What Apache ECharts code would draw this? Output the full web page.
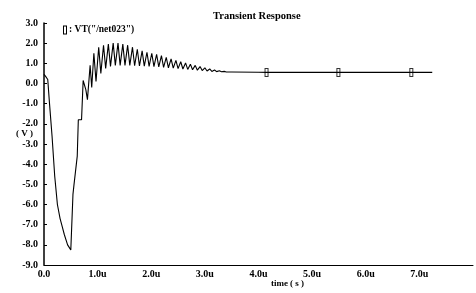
<!DOCTYPE html>
<html>
<head>
<meta charset="utf-8">
<script src="https://cdn.jsdelivr.net/npm/echarts@6/dist/echarts.min.js"></script>
<style>
html,body{margin:0;padding:0;background:#fff;}
#chart{width:476px;height:293px;}
</style>
</head>
<body>
<div id="chart"></div>
<script>
// time in microseconds
var timeUs = [
  0, 0.03, 0.07, 0.1, 0.15, 0.2, 0.25, 0.3, 0.33, 0.38, 0.44, 0.5,
  0.54, 0.56, 0.62, 0.64, 0.70, 0.73, 0.78, 0.81,
  0.86, 0.89, 0.93, 0.97, 1.02, 1.06, 1.11, 1.15, 1.20, 1.24,
  1.29, 1.33, 1.38, 1.42, 1.47, 1.51, 1.56, 1.60, 1.65, 1.69,
  1.74, 1.78, 1.83, 1.87, 1.92, 1.96, 2.01, 2.05, 2.10, 2.14,
  2.19, 2.23, 2.28, 2.32, 2.37, 2.41, 2.46, 2.50, 2.55, 2.59,
  2.64, 2.68, 2.73, 2.77, 2.82, 2.86, 2.91, 2.95, 3.00, 3.04,
  3.09, 3.13, 3.18, 3.22, 3.27, 3.31, 3.36, 3.40, 3.50, 4.0,
  4.15, 5.0, 5.49, 6.0, 6.85, 7.24
];
// voltage in volts
var voltage = [
  0.45, 0.35, 0.2, -0.9, -2.6, -4.6, -6.0, -6.7, -7.0, -7.5, -8.0, -8.25,
  -5.5, -5.0, -3.6, -1.8, -1.8, 0.15, -0.3, -0.8,
  0.9, -0.2, 1.5, 0.1, 1.8, 0.5, 1.9, 0.75, 1.95, 0.85,
  2.0, 0.9, 2.0, 0.9, 1.95, 0.9, 1.9, 0.9, 1.8, 0.88,
  1.7, 0.87, 1.62, 0.86, 1.55, 0.85, 1.5, 0.84, 1.45, 0.82,
  1.38, 0.8, 1.3, 0.78, 1.22, 0.76, 1.15, 0.74, 1.08, 0.72,
  1.02, 0.7, 0.96, 0.68, 0.9, 0.66, 0.84, 0.64, 0.78, 0.62,
  0.72, 0.6, 0.67, 0.59, 0.63, 0.58, 0.6, 0.57, 0.57, 0.56,
  0.55, 0.55, 0.55, 0.55, 0.55, 0.55
];
// marker symbols along the trace
var markerTimes = [4.15, 5.49, 6.85];
var markerValues = [0.55, 0.55, 0.55];

var seriesName = 'VT("/net023")';

var lineData = timeUs.map(function (t, i) { return [t, voltage[i]]; });
var markData = markerTimes.map(function (t, i) { return [t, markerValues[i]]; });

var serif = '"Liberation Serif", "DejaVu Serif", serif';
var outlineRect = 'path://M0,0L4,0L4,9L0,9Z M1,1L1,8L3,8L3,1Z';

var chart = echarts.init(document.getElementById('chart'), null, {renderer: 'canvas'});
chart.setOption({
  animation: false,
  backgroundColor: '#ffffff',
  title: {
    text: 'Transient Response',
    left: 208, top: 6,
    textStyle: {fontFamily: serif, fontWeight: 'bold', fontSize: 10.5, color: '#000'}
  },
  legend: {
    data: [seriesName],
    left: 58, top: 20,
    icon: outlineRect,
    itemWidth: 4, itemHeight: 9,
    formatter: function (n) { return ': ' + n; },
    textStyle: {fontFamily: serif, fontWeight: 'bold', fontSize: 9.5, color: '#000', padding: [0,0,0,-3]}
  },
  grid: {left: 44, right: 2, top: 23, bottom: 21, containLabel: false},
  xAxis: {
    type: 'value', min: 0, max: 8, interval: 1,
    name: 'time ( s )', nameLocation: 'middle', nameGap: 14, nameMoveOverlap: false,
    nameTextStyle: {fontFamily: serif, fontWeight: 'bold', fontSize: 9, color: '#000', padding: [0,0,0,58]},
    axisLine: {show: true, onZero: false, lineStyle: {color: '#000', width: 1}},
    axisTick: {show: false},
    splitLine: {show: false},
    axisLabel: {
      margin: 4,
      fontFamily: serif, fontWeight: 'bold', fontSize: 10, color: '#000',
      formatter: function (v) { return v === 0 ? '0.0' : (v === 8 ? '' : v.toFixed(1) + 'u'); }
    }
  },
  yAxis: {
    type: 'value', min: -9, max: 3, interval: 1,
    name: '( V )', nameLocation: 'middle', nameGap: 11, nameRotate: 0, nameMoveOverlap: false,
    nameTextStyle: {fontFamily: serif, fontWeight: 'bold', fontSize: 9, color: '#000',
      verticalAlign: 'bottom', lineHeight: 20},
    axisLine: {show: true, onZero: false, lineStyle: {color: '#000', width: 1.5}},
    axisTick: {show: true, inside: true, length: 3, lineStyle: {color: '#000'}},
    splitLine: {show: false},
    axisLabel: {
      margin: 6,
      fontFamily: serif, fontWeight: 'bold', fontSize: 10, color: '#000',
      formatter: function (v) { return v.toFixed(1); }
    }
  },
  series: [
    {
      name: seriesName, type: 'line', data: lineData,
      showSymbol: false, symbol: 'none',
      lineStyle: {color: '#000', width: 1.1},
      itemStyle: {color: '#000'}
    },
    {
      name: 'markers', type: 'scatter', data: markData,
      symbol: outlineRect, symbolSize: [4, 9],
      itemStyle: {color: '#000'}
    }
  ]
});
</script>
</body>
</html>
